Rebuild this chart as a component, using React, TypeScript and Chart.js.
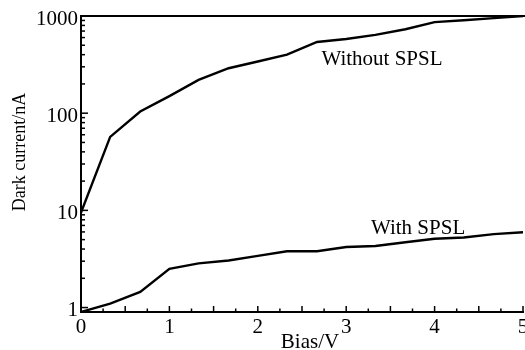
import React, { useEffect, useRef } from 'react';
import { Chart, registerables } from 'chart.js';

Chart.register(...registerables);

const biasV = [0, 0.33, 0.67, 1, 1.33, 1.67, 2, 2.33, 2.67, 3, 3.33, 3.67, 4, 4.33, 4.67, 5];
const withoutSPSL = [9.5, 57, 104, 150, 220, 290, 340, 400, 540, 580, 640, 730, 866, 905, 950, 1000];
const withSPSL = [0.9, 1.1, 1.45, 2.5, 2.85, 3.05, 3.4, 3.8, 3.8, 4.2, 4.3, 4.7, 5.1, 5.25, 5.7, 5.95];
const xTickLabels = [0, 1, 2, 3, 4, 5];
const yTickLabels = [1, 10, 100, 1000];
const xTitle = 'Bias/V';
const yTitle = 'Dark current/nA';
const annotations = [
  { text: 'Without SPSL', x: 2.72, y: 355 },
  { text: 'With SPSL', x: 3.28, y: 6.5 },
];

const FONT = '"Liberation Serif", "Times New Roman", serif';

const decorPlugin = {
  id: 'decor',
  afterDraw(chart: any) {
    const { ctx, chartArea, scales } = chart;
    const xs = scales.x;
    const ys = scales.y;
    ctx.save();
    ctx.strokeStyle = '#000';
    ctx.lineWidth = 2;
    // top border
    ctx.beginPath();
    ctx.moveTo(chartArea.left, chartArea.top);
    ctx.lineTo(chartArea.right + 2, chartArea.top);
    ctx.stroke();
    // inward x ticks
    ctx.lineWidth = 1.5;
    for (let i = 0; i <= 20; i++) {
      const v = i * 0.25;
      const px = xs.getPixelForValue(v);
      const len = i % 2 === 0 ? 6 : 3.5;
      ctx.beginPath();
      ctx.moveTo(px, chartArea.bottom);
      ctx.lineTo(px, chartArea.bottom - len);
      ctx.stroke();
    }
    // inward y ticks
    const yMin = ys.min;
    const yMax = ys.max;
    for (let d = 1; d <= 1000; d *= 10) {
      for (let k = 1; k <= 9; k++) {
        const v = d * k;
        if (v < yMin || v > yMax * 1.0001) continue;
        const py = ys.getPixelForValue(v);
        const len = k === 1 ? 7 : 4;
        ctx.beginPath();
        ctx.moveTo(chartArea.left, py);
        ctx.lineTo(chartArea.left + len, py);
        ctx.stroke();
      }
    }
    // annotations
    ctx.fillStyle = '#000';
    ctx.font = `21px ${FONT}`;
    ctx.textAlign = 'left';
    ctx.textBaseline = 'middle';
    for (const a of annotations) {
      ctx.fillText(a.text, xs.getPixelForValue(a.x), ys.getPixelForValue(a.y));
    }
    // axis titles
    ctx.textAlign = 'center';
    ctx.fillText(xTitle, 310, 342);
    ctx.save();
    ctx.translate(20, 152);
    ctx.rotate(-Math.PI / 2);
    ctx.font = `18px ${FONT}`;
    ctx.fillText(yTitle, 0, 0);
    ctx.restore();
    ctx.restore();
  },
};

export default function App() {
  const ref = useRef<HTMLCanvasElement | null>(null);

  useEffect(() => {
    if (!ref.current) return;
    const chart = new Chart(ref.current, {
      type: 'line',
      data: {
        datasets: [
          {
            label: 'Without SPSL',
            data: biasV.map((x, i) => ({ x, y: withoutSPSL[i] })),
            borderColor: '#000',
            borderWidth: 2.4,
            pointRadius: 0,
            tension: 0,
            fill: false,
          },
          {
            label: 'With SPSL',
            data: biasV.map((x, i) => ({ x, y: withSPSL[i] })),
            borderColor: '#000',
            borderWidth: 2.4,
            pointRadius: 0,
            tension: 0,
            fill: false,
          },
        ],
      },
      options: {
        responsive: false,
        animation: false,
        layout: { padding: { top: 16, right: 2, left: 0, bottom: 0 } },
        plugins: { legend: { display: false }, tooltip: { enabled: false } },
        scales: {
          x: {
            type: 'linear',
            min: 0,
            max: 5,
            afterBuildTicks: (scale: any) => {
              scale.ticks = xTickLabels.map((v) => ({ value: v }));
            },
            ticks: {
              color: '#000',
              font: { family: FONT, size: 21 },
              padding: 3,
              maxRotation: 0,
              autoSkip: false,
            },
            grid: { display: false, drawTicks: false },
            border: { display: true, color: '#000', width: 2 },
            afterFit: (scale: any) => {
              scale.height = 38;
              scale.paddingLeft = 0;
              scale.paddingRight = 0;
            },
          },
          y: {
            type: 'logarithmic',
            min: 0.9,
            max: 1000,
            afterBuildTicks: (scale: any) => {
              scale.ticks = yTickLabels.map((v) => ({ value: v }));
            },
            ticks: {
              color: '#000',
              font: { family: FONT, size: 21 },
              padding: 3,
              labelOffset: 3,
              autoSkip: false,
              callback: (v: any) => String(v),
            },
            grid: { display: false, drawTicks: false },
            border: { display: true, color: '#000', width: 2 },
            afterFit: (scale: any) => {
              scale.width = 81;
              scale.paddingTop = 0;
              scale.paddingBottom = 0;
            },
          },
        },
      },
      plugins: [decorPlugin],
    });
    return () => chart.destroy();
  }, []);

  return (
    <div style={{ position: 'fixed', left: 0, top: 0, width: 525, height: 350, background: '#fff' }}>
      <canvas ref={ref} width={525} height={350} style={{ display: 'block' }} />
    </div>
  );
}
